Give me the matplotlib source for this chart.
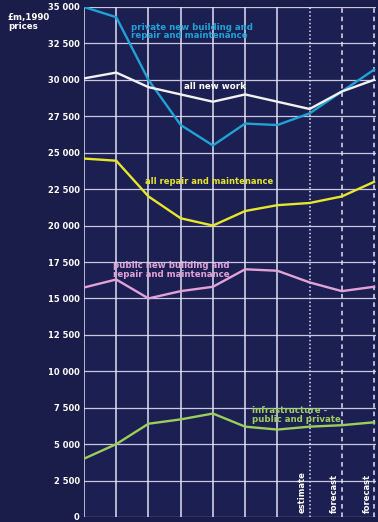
import numpy as np
import matplotlib
matplotlib.use("Agg")
import matplotlib.pyplot as plt

plt.rcParams['font.family'] = ['Liberation Sans Narrow', 'DejaVu Sans']

# periods (10 points, the last three are estimate / forecast / forecast)
periodo = np.arange(10)

# valores en £m, precios 1990
privado = [35000, 34300, 30000, 26900, 25500, 27000, 26900, 27700, 29200, 30700]
obra_nueva = [30100, 30500, 29500, 29000, 28500, 29000, 28500, 28000, 29200, 30000]
reparacion = [24600, 24450, 22000, 20500, 20000, 21000, 21400, 21550, 22000, 23000]
publico = [15750, 16300, 15000, 15500, 15800, 17000, 16900, 16100, 15500, 15800]
infra = [4000, 5000, 6400, 6700, 7100, 6200, 6000, 6200, 6300, 6500]

yticks = np.arange(0, 35001, 2500)
ytick_labels = ["0" if v == 0 else "{:,}".format(v).replace(",", " ") for v in yticks]
notas = ["estimate", "forecast", "forecast"]

fondo = "#1c1f52"
rejilla = "#c8c8e0"

fig = plt.figure(figsize=(3.78, 5.22), dpi=100, facecolor="#1a1c4a")
ax = fig.add_axes([84/378, 5/522, 292/378, 510/522])
ax.set_facecolor(fondo)

ax.set_xlim(0, 9.06)
ax.set_ylim(0, 35000)

# rejilla horizontal
for v in yticks:
    ax.axhline(v, color=rejilla, lw=0.9, zorder=1)
# rejilla vertical: solida, luego punteada y discontinua
for i in periodo:
    if i <= 6:
        ax.axvline(i, color="#e0e0f0", lw=1.1, zorder=1)
    elif i == 7:
        ax.axvline(i, color="#e0e0f0", lw=1.1, ls=(0, (1, 1.5)), zorder=1)
    else:
        ax.axvline(i, color="#e0e0f0", lw=1.1, ls=(0, (3, 2.5)), zorder=1)

ax.plot(periodo, privado, color="#1fa3d6", lw=1.7, zorder=3)
ax.plot(periodo, obra_nueva, color="#f2f2f2", lw=1.7, zorder=3)
ax.plot(periodo, reparacion, color="#e6e62a", lw=1.7, zorder=3)
ax.plot(periodo, publico, color="#e2a2d8", lw=1.7, zorder=3)
ax.plot(periodo, infra, color="#9ccf5a", lw=1.7, zorder=3)

ax.set_yticks(yticks)
ax.set_yticklabels(ytick_labels, color="white", fontsize=6, fontweight="bold")
ax.tick_params(axis="y", length=0, pad=3)
ax.set_xticks([])
for s in ax.spines.values():
    s.set_visible(False)

# etiquetas de las series
ax.text(1.45, 33300, "private new building and\nrepair and maintenance", color="#1fa3d6",
        fontsize=6.2, fontweight="bold", linespacing=0.9, va="center")
ax.text(3.1, 29550, "all new work", color="white", fontsize=6.2, fontweight="bold", va="center")
ax.text(1.9, 23000, "all repair and maintenance", color="#e6e62a", fontsize=6,
        fontweight="bold", va="center")
ax.text(0.9, 16950, "public new building and\nrepair and maintenance", color="#e2a2d8",
        fontsize=6.2, fontweight="bold", linespacing=0.9, va="center")
ax.text(5.2, 7000, "infrastructure -\npublic and private", color="#9ccf5a", fontsize=6.2,
        fontweight="bold", linespacing=0.9, va="center")

for i, t in zip([7, 8, 9], notas):
    ax.text(i - 0.08, 300, t, color="white", fontsize=6, fontweight="bold",
            rotation=90, ha="right", va="bottom")

fig.text(8/378, 1 - 22/522, "£m,1990\nprices", color="white", fontsize=6.2,
         fontweight="bold", linespacing=0.95, va="center")

fig.savefig("out.png", dpi=100, facecolor=fig.get_facecolor())
